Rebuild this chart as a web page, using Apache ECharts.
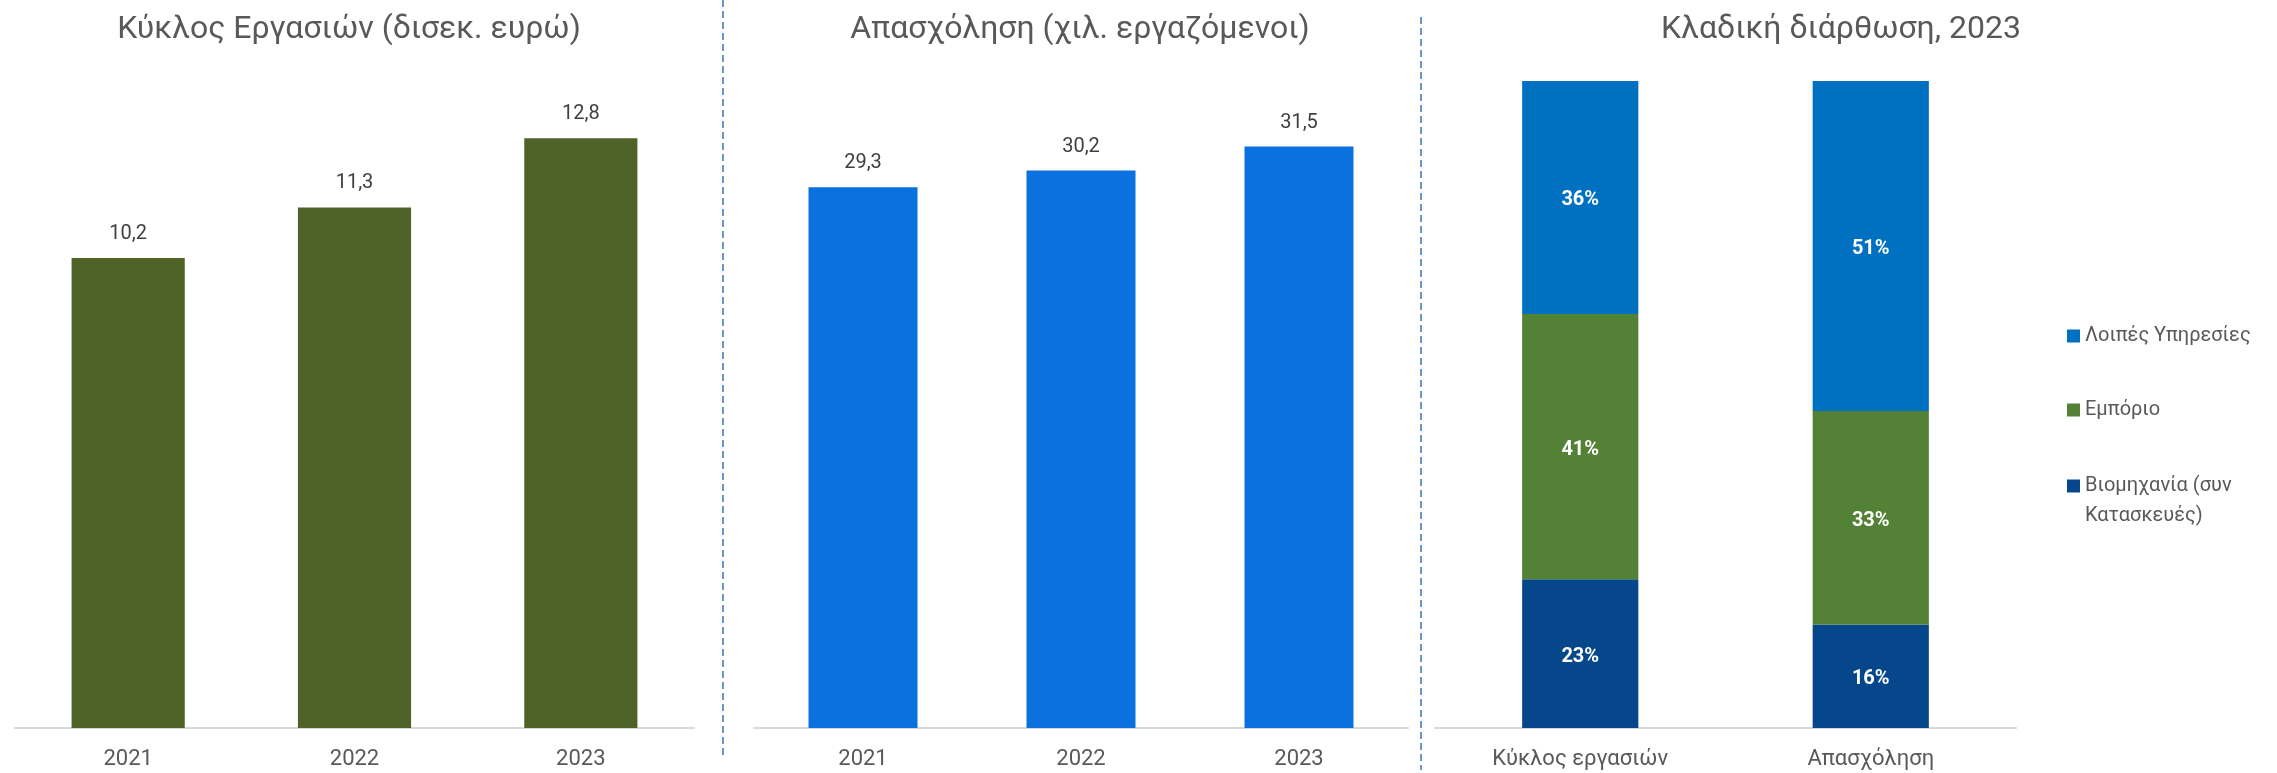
<!DOCTYPE html>
<html><head><meta charset="utf-8">
<script src="https://cdn.jsdelivr.net/npm/echarts@6/dist/echarts.min.js"></script>
<style>html,body{margin:0;padding:0;background:#fff}#c{width:2277px;height:773px}</style>
</head><body><div id="c"></div>
<script>
const years = ['2021', '2022', '2023'];
const turnover = [10.2, 11.3, 12.8];
const employment = [29.3, 30.2, 31.5];
const sectorCats = ['Κύκλος εργασιών', 'Απασχόληση'];
const industry = [23, 16];
const trade = [41, 33];
const services = [36, 51];
const titles = ['Κύκλος Εργασιών (δισεκ. ευρώ)', 'Απασχόληση (χιλ. εργαζόμενοι)', 'Κλαδική διάρθωση, 2023'];
const seriesNames = ['Βιομηχανία (συν Κατασκευές)', 'Εμπόριο', 'Λοιπές Υπηρεσίες'];

const FONT = '"Roboto", sans-serif';
const grey = '#595959';
const comma = p => String(p.value).replace('.', ',');

const chart = echarts.init(document.getElementById('c'), null, {renderer: 'canvas'});
const catAxis = (gi, data) => ({
  type: 'category', gridIndex: gi, data: data,
  axisLine: {lineStyle: {color: '#d9d9d9', width: 2}}, axisTick: {show: false},
  axisLabel: {color: grey, fontSize: 22, fontFamily: FONT, margin: 20}
});
const valAxis = (gi, max) => ({
  type: 'value', gridIndex: gi, min: 0, max: max, show: false, splitLine: {show: false}
});
const legendText = {fontSize: 20, color: grey, lineHeight: 24, fontFamily: FONT};
const mkLegend = (top, name, fmt, icon) => ({
  orient: 'vertical', left: 2062, top: top, itemWidth: 13, itemHeight: 13, icon: icon || 'rect',
  data: [name], formatter: fmt, textStyle: legendText, selectedMode: false
});
const titleStyle = {fontSize: 32, fontWeight: 'normal', color: grey, fontFamily: FONT};
const segLabel = {show: true, position: 'inside', offset: [0, 3], formatter: '{c}%', fontSize: 20, fontWeight: 'bold', color: '#fff', fontFamily: FONT};
chart.setOption({
  animation: false,
  textStyle: {fontFamily: FONT},
  title: [
    {text: titles[0], left: 349, top: 14, textAlign: 'center', padding: 0, textStyle: titleStyle},
    {text: titles[1], left: 1080, top: 14, textAlign: 'center', padding: 0, textStyle: titleStyle},
    {text: titles[2], left: 1841, top: 14, textAlign: 'center', padding: 0, textStyle: titleStyle}
  ],
  grid: [
    {left: 15, right: 1583, top: 83, bottom: 45},
    {left: 754, right: 869, top: 82, bottom: 45},
    {left: 1435, right: 261, top: 81, bottom: 45}
  ],
  xAxis: [catAxis(0, years), catAxis(1, years), catAxis(2, sectorCats)],
  yAxis: [valAxis(0, 14), valAxis(1, 35), valAxis(2, 100)],
  legend: [
    mkLegend(319, seriesNames[2]),
    mkLegend(393, seriesNames[1]),
    mkLegend(469, seriesNames[0], () => 'Βιομηχανία (συν'),
    mkLegend(499, seriesNames[0], () => 'Κατασκευές)', 'none')
  ],
  graphic: [
    {type: 'line', shape: {x1: 723, y1: 0, x2: 723, y2: 758}, style: {stroke: '#3f74b8', lineWidth: 1.5, lineDash: [7, 4]}},
    {type: 'line', shape: {x1: 1421, y1: 17, x2: 1421, y2: 770}, style: {stroke: '#3f74b8', lineWidth: 1.5, lineDash: [7, 4]}}
  ],
  series: [
    {type: 'bar', xAxisIndex: 0, yAxisIndex: 0, data: turnover, barWidth: '50%', itemStyle: {color: '#4f6228'},
     label: {show: true, position: 'top', distance: 14, formatter: comma, fontSize: 20, color: '#404040', fontFamily: FONT}},
    {type: 'bar', xAxisIndex: 1, yAxisIndex: 1, data: employment, barWidth: '50%', itemStyle: {color: '#0a71df'},
     label: {show: true, position: 'top', distance: 14, formatter: comma, fontSize: 20, color: '#404040', fontFamily: FONT}},
    {name: seriesNames[0], type: 'bar', stack: 's', xAxisIndex: 2, yAxisIndex: 2, data: industry, barWidth: '40%',
     itemStyle: {color: '#05478a'}, label: segLabel},
    {name: seriesNames[1], type: 'bar', stack: 's', xAxisIndex: 2, yAxisIndex: 2, data: trade, barWidth: '40%',
     itemStyle: {color: '#538135'}, label: segLabel},
    {name: seriesNames[2], type: 'bar', stack: 's', xAxisIndex: 2, yAxisIndex: 2, data: services, barWidth: '40%',
     itemStyle: {color: '#0070c0'}, label: segLabel}
  ]
});
</script></body></html>
